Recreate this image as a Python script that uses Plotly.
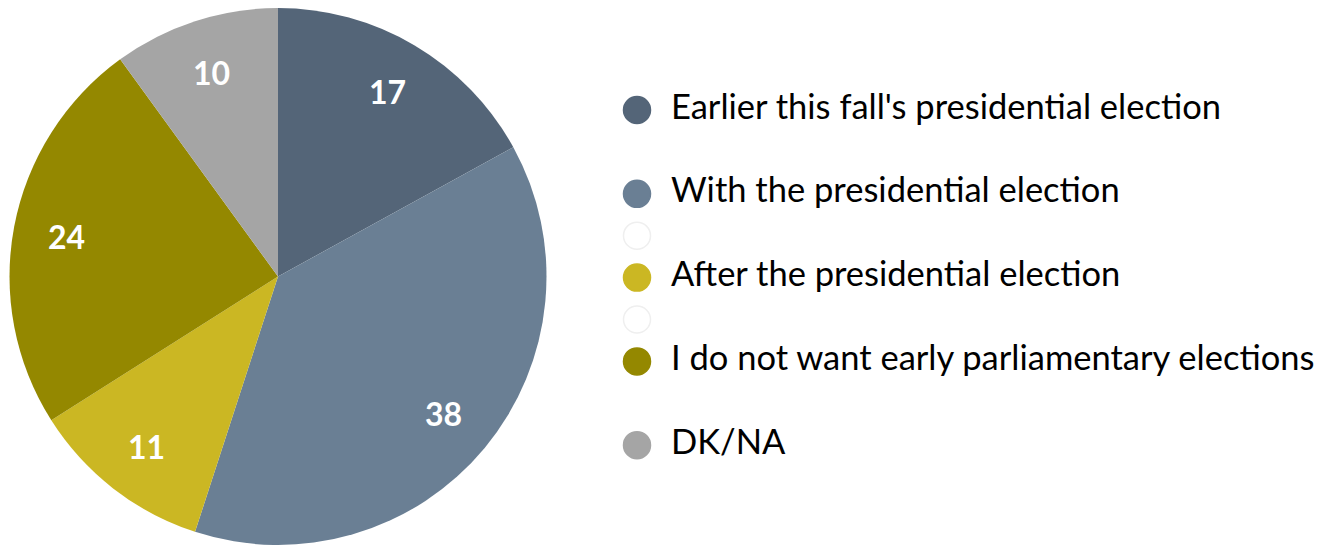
import numpy as np
import plotly.graph_objects as go

# ---- data ----
categories = [
    "Earlier this fall's presidential election",
    "With the presidential election",
    "After the presidential election",
    "I do not want early parliamentary elections",
    "DK/NA",
]
values = [17, 38, 11, 24, 10]
colors = ["#546578", "#6a7f94", "#cbb723", "#948800", "#a5a5a5"]

# legend rows as in the original (blank placeholder rows included)
legend_labels = [categories[0], "", categories[1], "", categories[2], "", categories[3], "", categories[4]]
legend_fill = [colors[0], "rgba(0,0,0,0)", colors[1], "#ffffff", colors[2], "#ffffff", colors[3], "rgba(0,0,0,0)", colors[4]]
legend_outline = [colors[0], "rgba(0,0,0,0)", colors[1], "#efefef", colors[2], "#efefef", colors[3], "rgba(0,0,0,0)", colors[4]]

# page body has an 8px margin; size the figure to fit the 1329x546 window
OFF = 8
W, H = 1329 - OFF, 546 - OFF
FONT = "Lato"

# pie placement (window pixels -> figure pixels)
pie_left, pie_right, pie_top, pie_bottom = 9 - OFF, 547 - OFF, 8 - OFF, 545 - OFF
pie_dom_x = [pie_left / W, pie_right / W]
pie_dom_y = [max(0, 1 - pie_bottom / H), 1 - pie_top / H]

fig = go.Figure()

fig.add_trace(go.Pie(
    labels=categories,
    values=values,
    marker=dict(colors=colors, line=dict(width=0)),
    sort=False,
    direction="clockwise",
    rotation=0,
    textinfo="none",
    showlegend=False,
    domain=dict(x=pie_dom_x, y=pie_dom_y),
))

# legend built from a scatter on a hidden axis
idx = list(range(len(legend_labels)))
fig.add_trace(go.Scatter(
    x=[0] * len(idx), y=idx, mode="markers",
    marker=dict(size=27, color=legend_fill, line=dict(color=legend_outline, width=1.5)),
    showlegend=False, hoverinfo="skip", xaxis="x", yaxis="y",
))
fig.add_trace(go.Scatter(
    x=[1] * len(idx), y=idx, mode="text", text=legend_labels,
    textposition="middle right",
    textfont=dict(family=FONT, size=34.5, color="#000000"),
    showlegend=False, hoverinfo="skip", xaxis="x", yaxis="y",
))

# value labels placed at 0.8 of the radius on the slice mid-angle (axis spanning the pie)
vals = np.array(values, dtype=float)
mid = (np.cumsum(vals) - vals / 2) / vals.sum() * 2 * np.pi
lab_r = 0.8
lx = lab_r * np.sin(mid)
ly = lab_r * np.cos(mid)
fig.add_trace(go.Scatter(x=[None], y=[None], xaxis="x2", yaxis="y2",
                         showlegend=False, hoverinfo="skip"))
for v, x, y in zip(values, lx, ly):
    fig.add_annotation(
        x=x, y=y, xref="x2", yref="y2", text=str(v), showarrow=False,
        xanchor="center", yanchor="middle",
        font=dict(family=FONT, size=32, color="#ffffff", weight="bold"),
    )

row_px = 41.9
first_px = 110 - OFF
marker_px = 637 - OFF
text_px = 672 - OFF - 1
fig.update_layout(
    width=W, height=H,
    margin=dict(l=0, r=0, t=0, b=0),
    paper_bgcolor="#ffffff", plot_bgcolor="rgba(0,0,0,0)",
    showlegend=False,
    xaxis=dict(domain=[0, 1], range=[-marker_px / (text_px - marker_px), (W - marker_px) / (text_px - marker_px)],
               visible=False, fixedrange=True),
    yaxis=dict(domain=[0, 1], range=[(H - first_px) / row_px, -first_px / row_px],
               visible=False, fixedrange=True),
    xaxis2=dict(domain=pie_dom_x, range=[-1, 1], visible=False, anchor="y2"),
    yaxis2=dict(domain=pie_dom_y, range=[-1, 1], visible=False, anchor="x2"),
    font=dict(family=FONT),
)

fig.write_html("out.html")
